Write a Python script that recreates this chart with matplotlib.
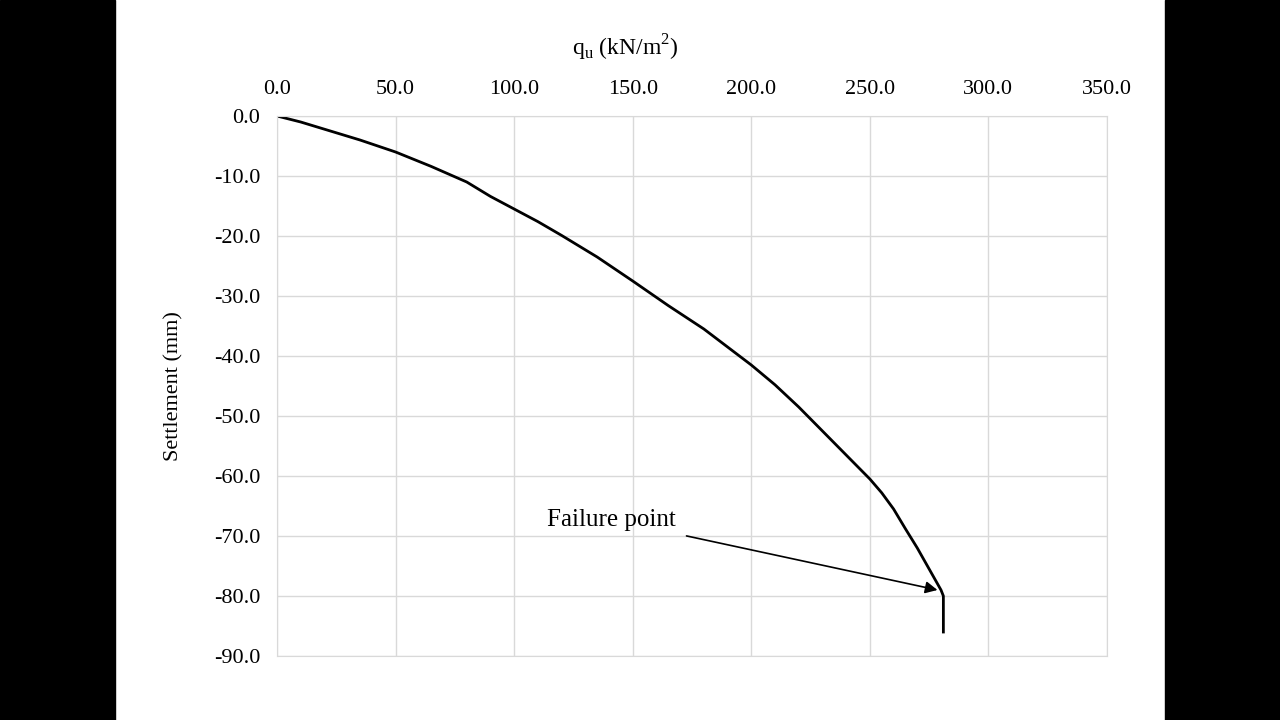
import numpy as np
import matplotlib.pyplot as plt
from matplotlib.patches import Rectangle

plt.rcParams['font.family'] = ['Liberation Serif', 'DejaVu Serif']

qu = [0, 10, 20, 35, 50, 65, 80, 90, 100, 110, 120, 135, 150, 165, 180, 190, 200, 210, 220,
      230, 240, 250, 255, 260, 265, 270, 274, 277, 280, 281, 281]
settle = [0, -1.0, -2.2, -4.0, -6.0, -8.4, -11.0, -13.4, -15.5, -17.6, -19.9, -23.5, -27.5,
          -31.6, -35.5, -38.5, -41.5, -44.8, -48.5, -52.5, -56.5, -60.5, -62.8, -65.5, -68.8,
          -72.0, -74.8, -76.9, -79.0, -80.0, -86.0]

fig = plt.figure(figsize=(12.8, 7.2), dpi=100)
fig.patches.append(Rectangle((0, 0), 115/1280, 1, transform=fig.transFigure, color='black'))
fig.patches.append(Rectangle((1165/1280, 0), 115/1280, 1, transform=fig.transFigure, color='black'))

ax = fig.add_axes([277/1280, 1-656/720, 830/1280, 540/720])
ax.plot(qu, settle, color='black', lw=2)
ax.set_xlim(0, 350)
ax.set_ylim(-90, 0)
ax.set_xticks(np.arange(0, 351, 50))
ax.set_yticks(np.arange(-90, 1, 10))
ax.xaxis.set_major_formatter(lambda v, p: '{:.1f}'.format(v))
ax.yaxis.set_major_formatter(lambda v, p: '{:.1f}'.format(v))
ax.xaxis.tick_top()
ax.xaxis.set_label_position('top')
ax.tick_params(length=0, labelsize=16, pad=12)
ax.grid(color='#d9d9d9', lw=1)
for s in ax.spines.values():
    s.set_color('#d9d9d9')
ax.set_xlabel('q$_\\mathregular{u}$ (kN/m$^\\mathregular{2}$)', fontsize=17, labelpad=18)
ax.xaxis.label.set_x(0.42)
ax.set_ylabel('Settlement (mm)', fontsize=16, labelpad=22)
ax.annotate('Failure point', xy=(278.5, -79), xytext=(114, -67.3), fontsize=18,
            va='center', arrowprops=dict(arrowstyle='-|>', color='black', lw=1.2,
                                         shrinkA=8, shrinkB=0))
fig.savefig('out.png')
